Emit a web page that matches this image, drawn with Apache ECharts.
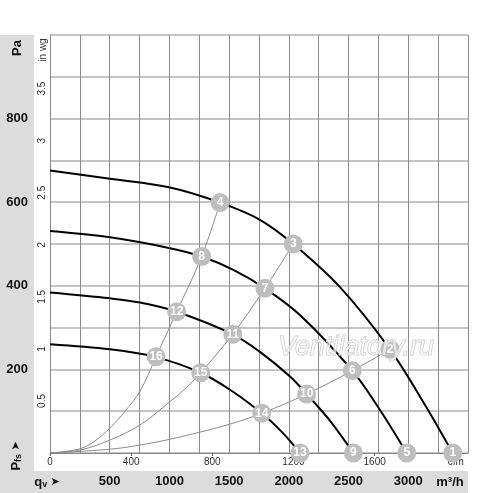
<!DOCTYPE html>
<html>
<head>
<meta charset="utf-8">
<script src="https://cdn.jsdelivr.net/npm/echarts@6/dist/echarts.min.js"></script>
<style>
  html, body { margin: 0; padding: 0; background: #fff; }
  #chart { width: 500px; height: 493px; }
</style>
</head>
<body>
<div id="chart"></div>
<script>
// fan curves, [flow m3/h, pressure Pa]
const curveA = [[0, 676], [502, 656], [1005, 635], [1424, 599], [1758, 558], [2037, 500], [2428, 397], [2847, 248],
  [3140, 115], [3372, 0]];
const curveB = [[0, 531], [502, 516], [1005, 490], [1270, 470], [1535, 438], [1800, 394], [2093, 330], [2531, 197],
  [2763, 103], [2987, 0]];
const curveC = [[0, 384], [502, 370], [754, 360], [1061, 338], [1530, 284], [1758, 242], [2010, 183], [2149, 141],
  [2345, 77], [2540, 0]];
const curveD = [[0, 260], [502, 248], [879, 230], [1262, 192], [1535, 146], [1773, 95], [1943, 50], [2093, 0]];

// system curves
const sys1 = [[0, 0], [251, 10], [377, 29], [502, 60], [628, 100], [754, 148], [888, 230], [1061, 338], [1270, 470], [1424, 599]];
const sys2 = [[0, 0], [251, 7], [502, 31], [754, 67], [1005, 123], [1130, 153], [1262, 192], [1530, 284], [1800, 394], [2037, 500]];
const sys3 = [[0, 0], [502, 9], [754, 19], [1005, 33], [1256, 50], [1507, 69], [1773, 95], [2149, 141], [2531, 197], [2847, 248]];

// numbered operating points
const pointNames = ['1', '2', '3', '4', '5', '6', '7', '8', '9', '10', '11', '12', '13', '14', '15', '16'];
const pointQ = [3372, 2847, 2037, 1424, 2987, 2531, 1800, 1270, 2540, 2149, 1530, 1061, 2093, 1773, 1262, 888];
const pointP = [0, 248, 500, 599, 0, 197, 394, 470, 0, 141, 284, 338, 0, 95, 192, 230];

const CFM = 1.699;   // m3/h per cfm
const INWG = 249.09; // Pa per in wg

const chart = echarts.init(document.getElementById('chart'));

const fanLine = (d) => ({
  type: 'line', data: d, smooth: 0.35, symbol: 'none', z: 3,
  lineStyle: { color: '#000', width: 2 }
});
const sysLine = (d) => ({
  type: 'line', data: d, smooth: 0.35, symbol: 'none', z: 2,
  lineStyle: { color: '#8a8a8a', width: 1 }
});

const font = 'Liberation Sans, Arial, sans-serif';

chart.setOption({
  animation: false,
  grid: { left: 50, top: 35, width: 418, height: 418 },
  xAxis: [{
    type: 'value', min: 0, max: 3500, interval: 250,
    axisLine: { show: true, lineStyle: { color: '#888' } },
    axisTick: { show: false },
    splitLine: { show: true, lineStyle: { color: '#8c8c8c', width: 1 } },
    axisLabel: {
      margin: 22, fontFamily: font, fontSize: 13, fontWeight: 'bold', color: '#111',
      formatter: v => (v % 500 === 0 && v > 0 && v < 3500) ? String(v) : ''
    }
  }, {
    type: 'value', min: 0, max: 3500 / CFM, interval: 400, position: 'bottom',
    axisLine: { show: false },
    axisTick: { show: true, length: 3, inside: false, lineStyle: { color: '#666' } },
    splitLine: { show: false },
    axisLabel: {
      margin: 4, fontFamily: font, fontSize: 10, color: '#333', showMaxLabel: false,
      formatter: v => v === 2000 ? 'cfm' : String(v)
    }
  }],
  yAxis: [{
    type: 'value', min: 0, max: 1000, interval: 100,
    axisLine: { show: true, lineStyle: { color: '#888' } },
    axisTick: { show: false },
    splitLine: { show: true, lineStyle: { color: '#b0b0b0', width: 1.5 } },
    axisLabel: {
      margin: 22, fontFamily: font, fontSize: 13, fontWeight: 'bold', color: '#111',
      formatter: v => (v % 200 === 0 && v > 0 && v < 1000) ? String(v) : ''
    }
  }, {
    type: 'value', min: 0, max: 1000 / INWG, interval: 0.5, position: 'left',
    axisLine: { show: false }, axisTick: { show: false }, splitLine: { show: false },
    axisLabel: {
      rotate: 90, margin: 3, fontFamily: font, fontSize: 10, color: '#333',
      formatter: v => (v > 0 && v < 4) ? String(v) : ''
    }
  }],
  graphic: [
    { type: 'rect', z: -100, shape: { x: 0, y: 35, width: 34, height: 458 }, style: { fill: '#dcdcdc' } },
    { type: 'rect', z: -100, shape: { x: 0, y: 471, width: 468, height: 22 }, style: { fill: '#dcdcdc' } },
    { type: 'text', x: 17, y: 48, rotation: Math.PI / 2,
      style: { text: 'Pa', font: 'bold 13px ' + font, fill: '#111', align: 'center', verticalAlign: 'middle' } },
    { type: 'text', x: 43, y: 50, rotation: Math.PI / 2,
      style: { text: 'in wg', font: '10px ' + font, fill: '#333', align: 'center', verticalAlign: 'middle' } },
    { type: 'text', x: 16, y: 456, rotation: Math.PI / 2,
      style: {
        text: '{p|P}{s|fs} {a|➤}', align: 'center', verticalAlign: 'middle',
        rich: {
          p: { font: 'bold 13px ' + font, fill: '#111' },
          s: { font: 'bold 9px ' + font, fill: '#111', padding: [6, 0, 0, 0] },
          a: { font: '11px DejaVu Sans', fill: '#111' }
        }
      } },
    { type: 'text', x: 47, y: 482,
      style: {
        text: '{p|q}{s|v} {a|➤}', align: 'center', verticalAlign: 'middle',
        rich: {
          p: { font: 'bold 13px ' + font, fill: '#111' },
          s: { font: 'bold 9px ' + font, fill: '#111', padding: [6, 0, 0, 0] },
          a: { font: '11px DejaVu Sans', fill: '#111' }
        }
      } },
    { type: 'text', x: 450, y: 482,
      style: { text: 'm³/h', font: 'bold 13px ' + font, fill: '#111', align: 'center', verticalAlign: 'middle' } },
    { type: 'text', x: 356, y: 347, z: 100,
      style: { text: 'Ventilatory.ru', font: 'italic 27px ' + font, fill: 'rgba(255,255,255,0.6)',
        stroke: '#c4c4c4', lineWidth: 1, align: 'center', verticalAlign: 'middle' } }
  ],
  series: [
    sysLine(sys1), sysLine(sys2), sysLine(sys3),
    fanLine(curveA), fanLine(curveB), fanLine(curveC), fanLine(curveD),
    {
      type: 'scatter', z: 5, symbolSize: 19,
      data: pointQ.map((q, i) => ({ value: [q, pointP[i]], name: pointNames[i] })),
      itemStyle: { color: '#bebebe', opacity: 1 },
      label: {
        show: true, position: 'inside', formatter: p => p.name,
        color: '#fff', fontFamily: font, fontSize: 12, fontWeight: 'bold'
      }
    }
  ]
});
</script>
</body>
</html>
